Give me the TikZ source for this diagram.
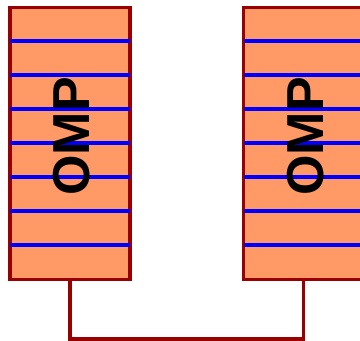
\documentclass[tikz,border=0pt]{standalone}
\usepackage{fontspec}
\setmainfont{Liberation Sans}
\usetikzlibrary{positioning}

\definecolor{ompfill}{HTML}{FF9966}
\definecolor{ompedge}{HTML}{990000}

\begin{document}
\begin{tikzpicture}[x=1pt, y=1pt, outer sep=0pt]
    % Styles
    \tikzstyle{ompbox} = [rectangle, draw=ompedge, fill=ompfill, line width=3.5pt, minimum width=120pt, minimum height=272pt]
    \tikzstyle{omptext} = [font=\fontsize{52}{52}\selectfont\bfseries, rotate=90, yshift=-2pt, xshift=7pt]
    \tikzstyle{stripe} = [blue, line width=4pt]
    \tikzstyle{wire} = [draw=ompedge, line width=3.5pt]

    \useasboundingbox (0,0) rectangle (360,341);

    % Nodes
    \node [ompbox] (leftomp) at (70,197.5) {};
    \node [ompbox, right=113.7pt of leftomp] (rightomp) {};

    % Stripes
    \foreach \k in {1,...,7} {
        \draw [stripe] ([yshift=-\k*34pt]leftomp.north west) -- ([yshift=-\k*34pt]leftomp.north east);
        \draw [stripe] ([yshift=-\k*34pt]rightomp.north west) -- ([yshift=-\k*34pt]rightomp.north east);
    }

    % Labels
    \node [omptext] (leftlabel) at (leftomp) {OMP};
    \node [omptext] (rightlabel) at (rightomp) {OMP};

    % Wires
    \draw [wire] (leftomp.south) -- ++(0,-59.5) -| (rightomp.south);
\end{tikzpicture}
\end{document}
